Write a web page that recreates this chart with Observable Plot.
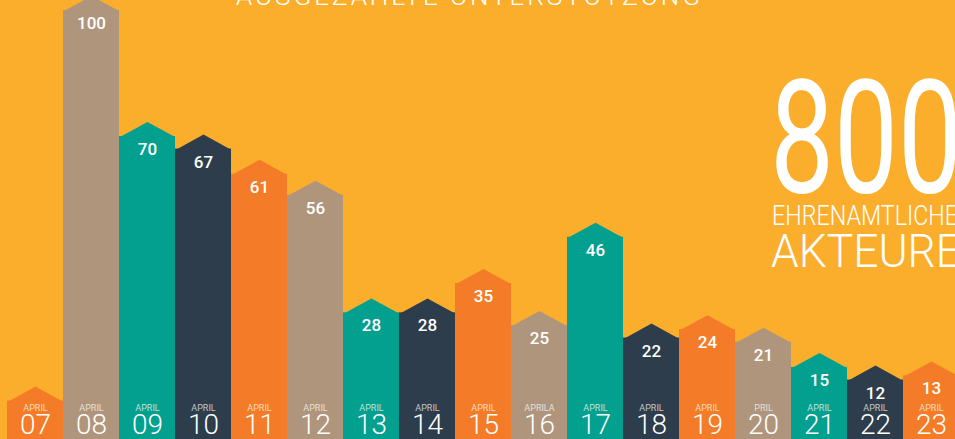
<!DOCTYPE html>
<html>
<head>
<meta charset="utf-8">
<script src="https://cdn.jsdelivr.net/npm/d3@7"></script>
<script src="https://cdn.jsdelivr.net/npm/@observablehq/plot@0.6"></script>
<style>
  html, body { margin: 0; padding: 0; background: #FBAE2B; }
  #wrap { position: relative; width: 955px; height: 439px; overflow: hidden; background: #FBAE2B; }
  #wrap svg { position: absolute; left: 0; top: 0; }
</style>
</head>
<body>
<div id="wrap"></div>
<script>
// ---- data ----
const days = ["07","08","09","10","11","12","13","14","15","16","17","18","19","20","21","22","23"];
const months = ["APRIL","APRIL","APRIL","APRIL","APRIL","APRIL","APRIL","APRIL","APRIL","APRILA","APRIL","APRIL","APRIL","PRIL","APRIL","APRIL","APRIL"];
const values = [7, 100, 70, 67, 61, 56, 28, 28, 35, 25, 46, 22, 24, 21, 15, 12, 13];
const valueLabels = [null, "100", "70", "67", "61", "56", "28", "28", "35", "25", "46", "22", "24", "21", "15", "12", "13"];
const palette = ["#F47B27", "#AF957C", "#03A08F", "#2D3D4B"];

const title = "AUSGEZAHLTE UNTERSTÜTZUNG";
const bigNumber = "800";
const bigLine1 = "EHRENAMTLICHE";
const bigLine2 = "AKTEURE";

const data = days.map((d, i) => ({day: d, month: months[i], value: values[i], label: valueLabels[i], color: palette[i % 4]}));

const W = 955, H = 439;
const xRange = [7, 959];
const bandW = (xRange[1] - xRange[0]) / days.length;
const roofH = 14.5;
const roof = {
  draw(ctx) {
    ctx.moveTo(-bandW / 2, 0.8);
    ctx.lineTo(0, -roofH);
    ctx.lineTo(bandW / 2, 0.8);
    ctx.closePath();
  }
};

const chart = Plot.plot({
  width: W,
  height: H,
  margin: 0,
  style: {background: "transparent", overflow: "hidden"},
  x: {type: "band", domain: days, range: xRange, padding: 0, axis: null},
  y: {domain: [0, 100], range: [430, 10], axis: null},
  color: {type: "identity"},
  marks: [
    Plot.barY(data, {x: "day", y1: -5, y2: "value", fill: "color", inset: 0}),
    Plot.dot(data, {x: "day", y: "value", symbol: roof, fill: "color", r: 5, stroke: "none"}),
    Plot.text(data, {x: "day", y: "value", text: "label", dy: 13, lineAnchor: "middle", fill: "white",
      fontSize: 17, fontWeight: 500, fontFamily: "Roboto", ariaLabel: "value-label"}),
    Plot.text(data, {x: "day", text: "month", frameAnchor: "bottom", dy: -28.5, lineAnchor: "bottom",
      fill: "white", fillOpacity: 0.72, fontSize: 9, fontFamily: "Roboto", ariaLabel: "month-label"}),
    Plot.text(data, {x: "day", text: "day", frameAnchor: "bottom", dy: -6, lineAnchor: "bottom",
      fill: "white", fontSize: 28, fontWeight: 300, fontFamily: "Roboto", ariaLabel: "day-label"})
  ]
});

const wrap = document.getElementById("wrap");
wrap.appendChild(chart);

function condense(sel, factor) {
  sel.each(function() {
    const len = this.getComputedTextLength();
    this.setAttribute("textLength", (len * factor).toFixed(2));
    this.setAttribute("lengthAdjust", "spacingAndGlyphs");
  });
}
condense(d3.select(chart).selectAll('g[aria-label="day-label"] text'), 0.8);
condense(d3.select(chart).selectAll('g[aria-label="value-label"] text'), 0.9);
condense(d3.select(chart).selectAll('g[aria-label="month-label"] text'), 0.85);

// ---- overlay text ----
const ov = d3.select(wrap).append("svg").attr("width", W).attr("height", H)
  .style("font-family", "Roboto").style("pointer-events", "none");

ov.append("text").text(title)
  .attr("x", 236).attr("y", 5)
  .attr("fill", "white").attr("font-size", 26).attr("font-weight", 300)
  .attr("textLength", 464).attr("lengthAdjust", "spacing");

ov.append("text").text(bigNumber)
  .attr("x", 770).attr("y", 192)
  .attr("fill", "white").attr("font-size", 158).attr("font-weight", 400)
  .attr("textLength", 192).attr("lengthAdjust", "spacingAndGlyphs");

ov.append("text").text(bigLine1)
  .attr("x", 772).attr("y", 225)
  .attr("fill", "white").attr("font-size", 27).attr("font-weight", 300)
  .attr("textLength", 186).attr("lengthAdjust", "spacingAndGlyphs");

ov.append("text").text(bigLine2)
  .attr("x", 771).attr("y", 267)
  .attr("fill", "white").attr("font-size", 47).attr("font-weight", 300)
  .attr("textLength", 190).attr("lengthAdjust", "spacingAndGlyphs");
</script>
</body>
</html>
